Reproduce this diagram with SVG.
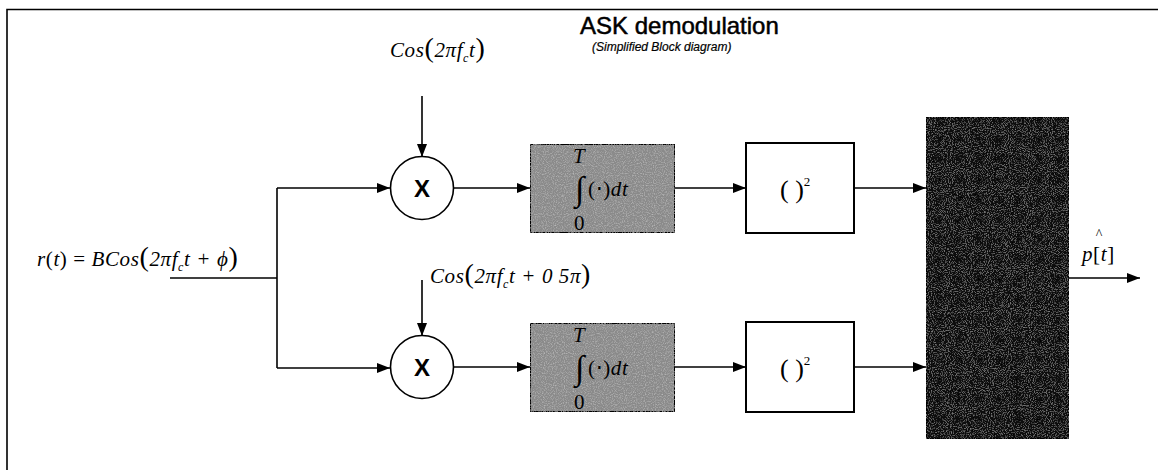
<svg xmlns="http://www.w3.org/2000/svg" width="1158" height="470" viewBox="0 0 1158 470">
<style>
.ln{stroke:#000;stroke-width:1.6;fill:none}
.bx{stroke:#000;stroke-width:2}
.math{font-family:"Liberation Serif",serif;font-style:italic;font-size:21px;fill:#000;letter-spacing:0.6px}
.up{font-style:normal}
.par{font-style:normal;font-size:28px}
.sans{font-family:"Liberation Sans",Arial,sans-serif;fill:#000}
</style>
<defs>
<marker id="ah" viewBox="0 0 13 10" refX="13" refY="5" markerWidth="13" markerHeight="10" markerUnits="userSpaceOnUse" orient="auto">
<path d="M0,0 L13,5 L0,10 Z" fill="#000"/>
</marker>
<filter id="grain" x="0" y="0" width="100%" height="100%">
<feTurbulence type="fractalNoise" baseFrequency="0.9" numOctaves="2" seed="3" result="n"/>
<feColorMatrix in="n" type="matrix" values="0 0 0 0 0.75  0 0 0 0 0.75  0 0 0 0 0.75  0 0 0 1.0 -0.45" result="g"/>
<feComposite in="g" in2="SourceGraphic" operator="in" result="gi"/>
<feMerge><feMergeNode in="SourceGraphic"/><feMergeNode in="gi"/></feMerge>
</filter>
<filter id="grainDark" x="0" y="0" width="100%" height="100%">
<feTurbulence type="fractalNoise" baseFrequency="0.95" numOctaves="2" seed="7" result="n"/>
<feColorMatrix in="n" type="matrix" values="0 0 0 0 0.6  0 0 0 0 0.6  0 0 0 0 0.6  0 0 0 1.0 -0.5" result="g"/>
<feComposite in="g" in2="SourceGraphic" operator="in" result="gi"/>
<feMerge><feMergeNode in="SourceGraphic"/><feMergeNode in="gi"/></feMerge>
</filter>
</defs>
<rect width="1158" height="470" fill="#fff"/>
<path d="M7,470 V9.5 H1158" class="ln" stroke-width="2.4"/>

<g id="title">
<text x="580" y="34" class="sans" font-size="24" stroke="#000" stroke-width="0.5">ASK demodulation</text>
<text x="592" y="51" class="sans" font-size="12" font-style="italic" stroke="#000" stroke-width="0.2">(Simplified Block diagram)</text>
</g>

<g id="connectors">
<path d="M170,278 H277" class="ln"/>
<path d="M277,188 V368" class="ln"/>
<path d="M277,188 H390" class="ln" marker-end="url(#ah)"/>
<path d="M277,368 H390" class="ln" marker-end="url(#ah)"/>
<path d="M422,96 V157" class="ln" marker-end="url(#ah)"/>
<path d="M422,280 V336" class="ln" marker-end="url(#ah)"/>
<path d="M454,188 H530" class="ln" marker-end="url(#ah)"/>
<path d="M454,367 H530" class="ln" marker-end="url(#ah)"/>
<path d="M675,188 H746" class="ln" marker-end="url(#ah)"/>
<path d="M675,367 H746" class="ln" marker-end="url(#ah)"/>
<path d="M854,188 H926" class="ln" marker-end="url(#ah)"/>
<path d="M854,367 H926" class="ln" marker-end="url(#ah)"/>
<path d="M1069,278 H1140" class="ln" marker-end="url(#ah)"/>
</g>

<g id="input-label">
<text x="37" y="266" class="math">r<tspan class="up">(</tspan>t<tspan class="up">) = </tspan>BCos<tspan class="par">(</tspan>2πf<tspan font-size="12" dy="5">c</tspan><tspan dy="-5">t + ϕ</tspan><tspan class="par">)</tspan></text>
</g>

<g id="carrier-i">
<text x="390" y="57" class="math">Cos<tspan class="par">(</tspan>2πf<tspan font-size="12" dy="5">c</tspan><tspan dy="-5">t</tspan><tspan class="par">)</tspan></text>
</g>
<g id="carrier-q">
<text x="430" y="283" class="math">Cos<tspan class="par">(</tspan>2πf<tspan font-size="12" dy="5">c</tspan><tspan dy="-5">t + 0 5π</tspan><tspan class="par">)</tspan></text>
</g>

<g id="mixer-i">
<circle cx="422" cy="188" r="31.5" fill="#fff" stroke="#000" stroke-width="1.6"/>
<text x="422" y="197" class="sans" font-size="24" font-weight="bold" text-anchor="middle">X</text>
</g>
<g id="mixer-q">
<circle cx="422" cy="367" r="31.5" fill="#fff" stroke="#000" stroke-width="1.6"/>
<text x="422" y="376" class="sans" font-size="24" font-weight="bold" text-anchor="middle">X</text>
</g>

<g id="integrator-i">
<rect x="530" y="144" width="145" height="89" class="bx" style="fill:#8a8a8a" filter="url(#grain)"/>
<text x="573" y="163" class="math" font-size="12">T</text>
<text x="575" y="200" font-family="Liberation Serif,serif" font-size="34">∫</text>
<text x="574" y="230" class="math up" font-size="11">0</text>
<text x="588" y="196" class="math" font-size="20"><tspan class="up">(⋅)</tspan>dt</text>
</g>
<g id="integrator-q">
<rect x="530" y="323" width="145" height="89" class="bx" style="fill:#8a8a8a" filter="url(#grain)"/>
<text x="573" y="342" class="math" font-size="12">T</text>
<text x="575" y="379" font-family="Liberation Serif,serif" font-size="34">∫</text>
<text x="574" y="409" class="math up" font-size="11">0</text>
<text x="588" y="375" class="math" font-size="20"><tspan class="up">(⋅)</tspan>dt</text>
</g>

<g id="square-i">
<rect x="746" y="143" width="108" height="90" class="bx" style="fill:#fff"/>
<text x="780" y="198" font-family="Liberation Serif,serif" font-size="26">( )<tspan font-size="13" dy="-12">2</tspan></text>
</g>
<g id="square-q">
<rect x="746" y="322" width="108" height="90" class="bx" style="fill:#fff"/>
<text x="780" y="377" font-family="Liberation Serif,serif" font-size="26">( )<tspan font-size="13" dy="-12">2</tspan></text>
</g>

<g id="decision">
<rect x="926" y="117" width="143" height="322" style="fill:#0c0c0c" stroke="#000" stroke-width="2" filter="url(#grainDark)"/>
</g>

<g id="output-label">
<text x="1082" y="261" class="math">p<tspan class="up">[</tspan>t<tspan class="up">]</tspan></text>
<text x="1099" y="239" font-family="Liberation Serif,serif" font-size="14" text-anchor="middle">^</text>
</g>
</svg>
